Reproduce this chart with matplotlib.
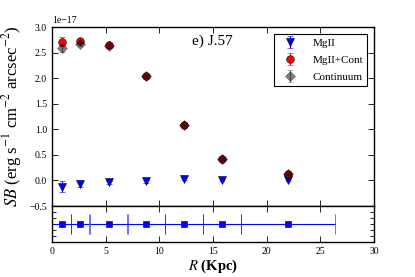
import matplotlib
matplotlib.use("Agg")
import matplotlib.pyplot as plt
import numpy as np

# Data (radius in Kpc, SB in erg s^-1 cm^-2 arcsec^-2)
R = [0.9, 2.6, 5.3, 8.8, 12.3, 15.85, 22.0]
R_err = [0.9, 0.87, 1.77, 1.77, 1.77, 1.77, 4.4]
mgii = [-0.12, -0.07, -0.04, -0.02, 0.03, 0.01, 0.0]
mgii_err = [0.11, 0.06, 0.03, 0.03, 0.02, 0.02, 0.02]
mgii_cont = [2.71, 2.73, 2.65, 2.05, 1.09, 0.41, 0.12]
mgii_cont_err = [0.09, 0.04, 0.03, 0.03, 0.02, 0.02, 0.02]
cont = [2.58, 2.66, 2.62, 2.04, 1.09, 0.41, 0.12]
cont_err = [0.07, 0.04, 0.03, 0.03, 0.02, 0.02, 0.02]
scale = 1e-17
label_text = "e) J.57"

plt.rcParams['font.family'] = ['Liberation Serif', 'DejaVu Serif']
plt.rcParams['mathtext.fontset'] = 'stix'
plt.rcParams['xtick.direction'] = 'in'
plt.rcParams['ytick.direction'] = 'in'
plt.rcParams['xtick.top'] = True
plt.rcParams['ytick.right'] = True

fig = plt.figure(figsize=(4.15, 2.77), dpi=100)
ax = fig.add_axes([0.1253, 0.2563, 0.7759, 0.6462])
ax2 = fig.add_axes([0.1253, 0.1264, 0.7759, 0.1299], sharex=ax)

s = lambda a: np.array(a) * scale

ax.errorbar(R, s(mgii), yerr=s(mgii_err), fmt='v', color='blue', mec='k', mew=0.4,
            ms=5.5, ecolor='blue', elinewidth=0.8, capsize=2.5, label='MgII', zorder=3)
ax.errorbar(R, s(mgii_cont), yerr=s(mgii_cont_err), fmt='o', color='red', mec='k', mew=0.4,
            ms=5.5, ecolor='red', elinewidth=0.8, capsize=2.5, label='MgII+Cont', zorder=3)
ax.errorbar(R, s(cont), yerr=s(cont_err), fmt='D', color='k', mec='k', mew=0.4,
            ms=5, ecolor='k', elinewidth=0.8, capsize=2.5, alpha=0.5, label='Continuum', zorder=4)

ax.set_xlim(0, 30)
ax.set_ylim(-0.5e-17, 3.0e-17)
ax.set_yticks(s([-0.5, 0.0, 0.5, 1.0, 1.5, 2.0, 2.5, 3.0]))
ax.tick_params(labelsize=7, length=4, width=0.6)
ax.tick_params(axis='x', labelbottom=False)
ax.yaxis.get_offset_text().set_fontsize(7)
ax.set_ylabel(r"$SB$ (erg s$^{-1}$ cm$^{-2}$ arcsec$^{-2}$)", fontsize=12, labelpad=4)
for sp in ax.spines.values():
    sp.set_linewidth(1.0)

ax.text(0.435, 0.918, label_text, transform=ax.transAxes, fontsize=11, va='center', ha='left')

leg = ax.legend(loc='upper right', fontsize=8, numpoints=1, fancybox=False,
                framealpha=1, edgecolor='k', borderaxespad=0.6, handletextpad=1.0,
                borderpad=0.4, labelspacing=0.65)
leg.get_frame().set_linewidth(0.8)

y_bins = [3] * len(R)
ax2.errorbar(R, y_bins, xerr=R_err, fmt='s', color='blue', mec='k', mew=0.4, ms=5,
             ecolor='blue', elinewidth=0.8, capsize=7, capthick=0.8)
ax2.set_ylim(0, 6)
ax2.set_yticks([1, 2, 3, 4, 5])
ax2.set_yticklabels([])
ax2.set_xticks([0, 5, 10, 15, 20, 25, 30])
ax2.tick_params(labelsize=7, length=4, width=0.6)
ax2.tick_params(axis='y', length=3)
ax2.set_xlabel(r"$R$ (Kpc)", fontsize=10.5, fontweight='bold', labelpad=1)
for sp in ax2.spines.values():
    sp.set_linewidth(1.0)

fig.savefig("out.png", dpi=100)
